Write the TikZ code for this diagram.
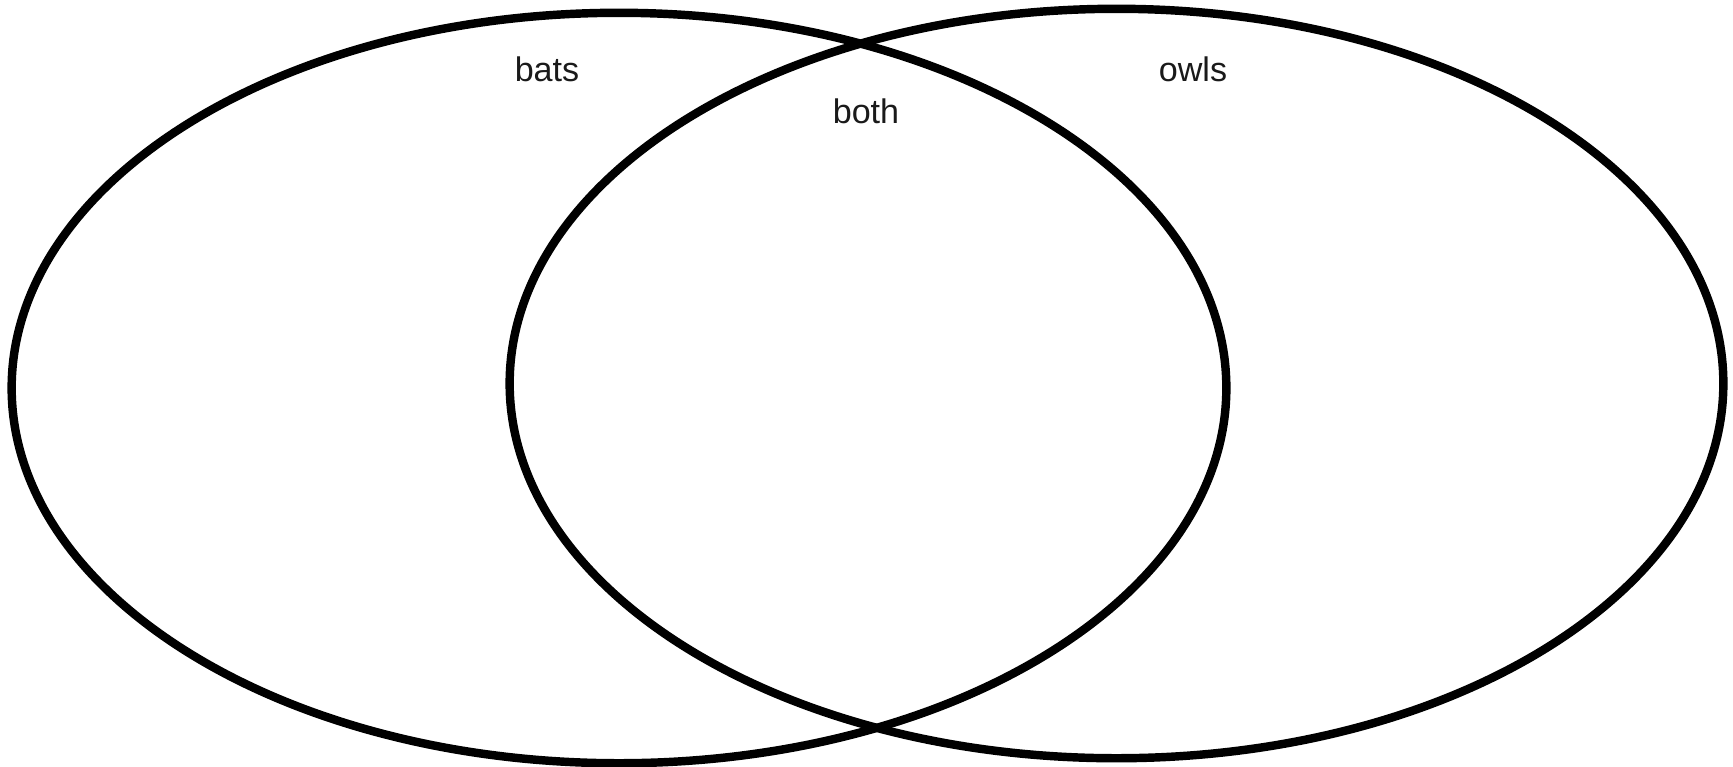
\documentclass[tikz,border=0pt]{standalone}
\usepackage{fontspec}
\setmainfont{Liberation Sans}
\usepackage{tikz}
\usetikzlibrary{shapes.geometric, positioning}
\definecolor{setline}{RGB}{0, 0, 0}
\definecolor{labeltext}{RGB}{26, 26, 26}
\tikzset{
  setblock/.style={
    ellipse, draw=setline, line width=2.4pt, inner sep=0pt
  },
  setlabel/.style={
    text=labeltext, font=\fontsize{9.7}{12}\selectfont, inner sep=0pt
  }
}
\begin{document}
\begin{tikzpicture}[x=0.01cm, y=-0.01cm]
  \useasboundingbox (0,0) rectangle (1733,766);

  % Sets
  \node[setblock, minimum width=12.14cm, minimum height=7.50cm] (batset) at (619,388) {};
  \node[setblock, minimum width=12.13cm, minimum height=7.49cm] (owlset) at (1116.5,383.5) {};

  % Labels
  \node[setlabel] (bats) at (547,69) {bats};
  \node[setlabel] (owls) at (1193,69) {owls};
  \node[setlabel] (both) at (866,111) {both};

\end{tikzpicture}
\end{document}
